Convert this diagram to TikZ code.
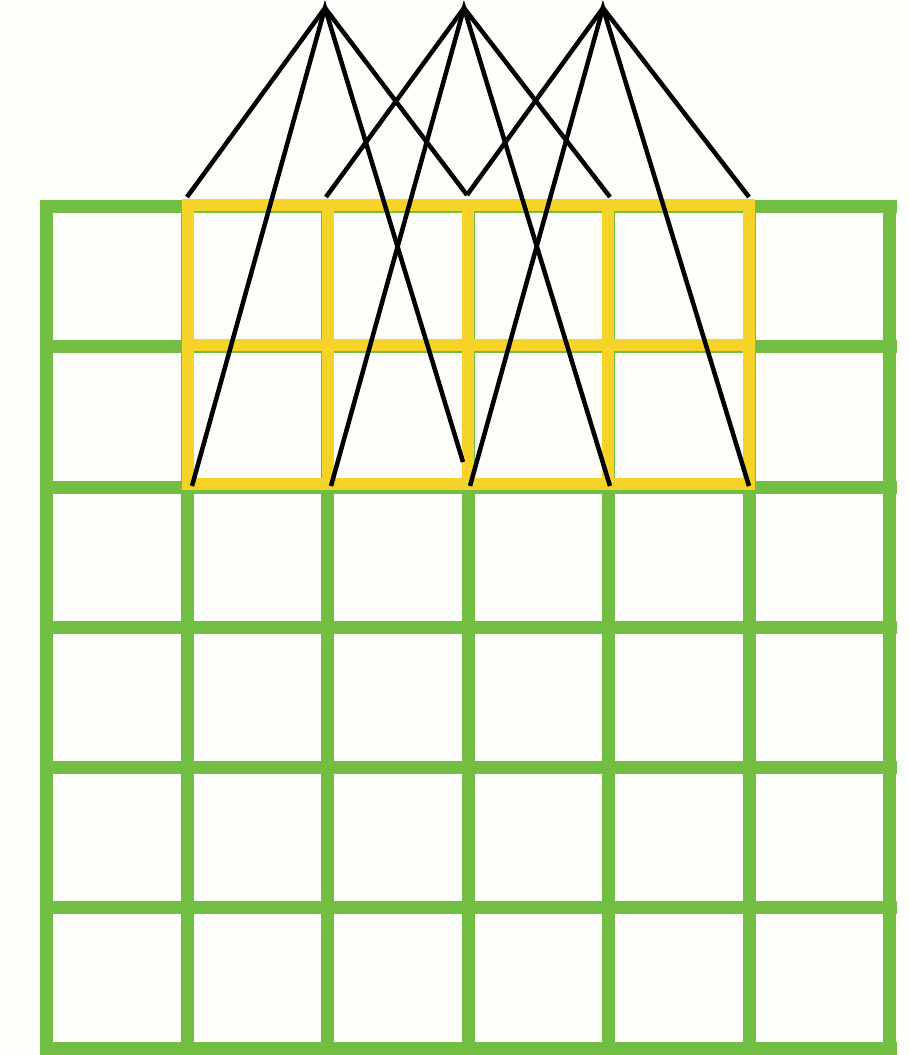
\documentclass[tikz,border=0pt]{standalone}
\definecolor{bgc}{RGB}{254,254,250}
\definecolor{grn}{RGB}{114,190,66}
\definecolor{ylw}{RGB}{245,211,40}
\begin{document}
\begin{tikzpicture}[x=1pt,y=-1pt,
  greenline/.style={draw=grn,line width=13pt,line cap=rect},
  yellowline/.style={draw=ylw,line width=12pt,line cap=rect},
  wire/.style={draw=black,line width=4.5pt}]
\fill[bgc] (0,0) rectangle (908,1055);
\useasboundingbox (0,0) rectangle (908,1055);
% green grid
\foreach \i in {0,...,6}{
  \pgfmathsetmacro\xx{46.5+140.58*\i}
  \pgfmathsetmacro\yy{206.5+140.25*\i}
  \draw[greenline] (\xx,206.5) -- (\xx,1048);
  \draw[greenline] (46.5,\yy) -- (890,\yy);
}
% yellow window
\foreach \xx in {187.5,328,467.5,608,749}{
  \draw[yellowline] (\xx,205) -- (\xx,484);
}
\foreach \yy in {205,344.5,484}{
  \draw[yellowline] (187.5,\yy) -- (749,\yy);
}
% apexes and end points
\coordinate (A1) at (325,8);
\coordinate (A2) at (464,8);
\coordinate (A3) at (603,8);
\coordinate (T1) at (187,197);
\coordinate (T2) at (326,197);
\coordinate (T3) at (467,195);
\coordinate (T4) at (610,197);
\coordinate (T5) at (749,197);
\coordinate (B1) at (192,486);
\coordinate (B2) at (331,486);
\coordinate (B3m) at (463,462);
\coordinate (B3) at (470,486);
\coordinate (B4) at (610,486);
\coordinate (B5) at (749,486);
\draw[wire] (T1) -- (A1) -- (T3);
\draw[wire] (B1) -- (A1) -- (B3m);
\draw[wire] (T2) -- (A2) -- (T4);
\draw[wire] (B2) -- (A2) -- (B4);
\draw[wire] (T3) -- (A3) -- (T5);
\draw[wire] (B3) -- (A3) -- (B5);
\end{tikzpicture}
\end{document}
